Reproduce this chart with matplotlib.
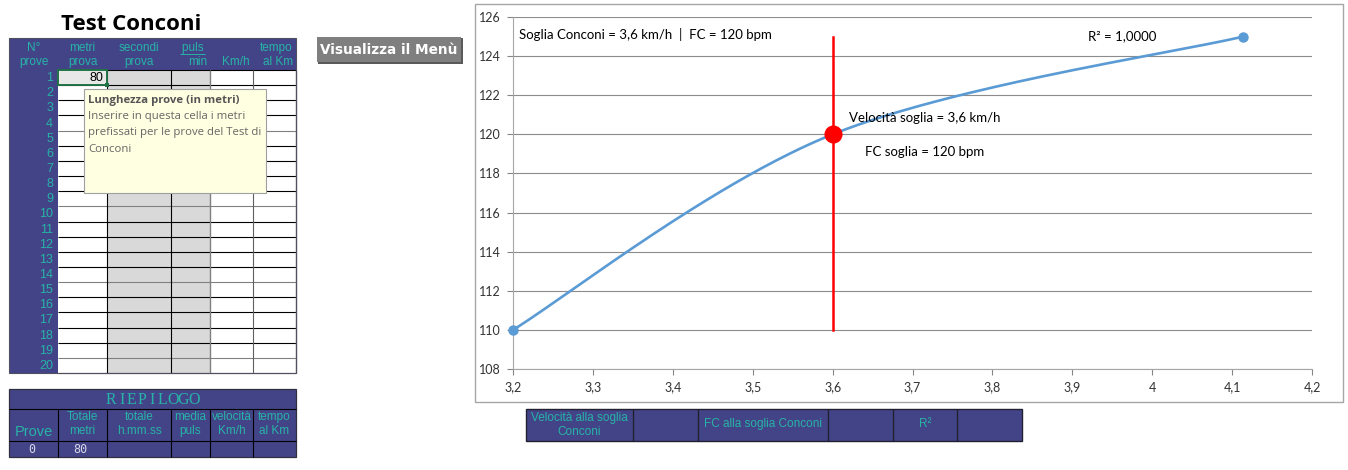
import numpy as np
import matplotlib
matplotlib.use("Agg")
import matplotlib.pyplot as plt
from matplotlib.patches import Rectangle

# ---------------- data ----------------
velocita = [3.2, 3.6, 4.114]          # km/h
fc = [110, 120, 125]                  # bpm
soglia_vel = 3.6
soglia_fc = 120
fc_linea = [110, 125]                 # extent of threshold line
r2 = 1.0
x_ticks = [3.2, 3.3, 3.4, 3.5, 3.6, 3.7, 3.8, 3.9, 4.0, 4.1, 4.2]
y_ticks = [108, 110, 112, 114, 116, 118, 120, 122, 124, 126]

header_top = ["N°", "metri", "secondi", "puls ", "", "tempo"]
header_bot = ["prove", "prova", "prova", "min", "Km/h", "al Km"]
prove_num = list(range(1, 21))
metri_prova = "80"
riep_title = "RIEPILOGO"
riep_top = ["", "Totale", "totale", "media", "velocità", "tempo"]
riep_bot = ["Prove", "metri", "h.mm.ss", "puls", "Km/h", "al Km"]
riep_val = ["0", "80", "", "", "", ""]
soglia_tab = ["Velocità alla soglia\nConconi", "", "FC alla soglia Conconi", "", "R²", ""]
tooltip_title = "Lunghezza prove (in metri)"
tooltip_body = ["Inserire in questa cella i metri",
                "prefissati per le prove del Test di",
                "Conconi"]

BLUE = "#434488"
TEAL = "#27B3A5"
SANS = "Liberation Sans"
CHART_FONT = "Lato"

fig = plt.figure(figsize=(13.48, 4.70), dpi=100)
bg = fig.add_axes([0, 0, 1, 1])
bg.set_xlim(0, 1348)
bg.set_ylim(470, 0)
bg.axis("off")


def rect(x0, y0, x1, y1, fc="none", ec="none", lw=0.8, z=1):
    bg.add_patch(Rectangle((x0, y0), x1 - x0, y1 - y0, facecolor=fc,
                           edgecolor=ec, linewidth=lw, zorder=z))


def hline(y, x0, x1, c="black", lw=0.8, z=3):
    bg.plot([x0, x1], [y, y], color=c, lw=lw, zorder=z, solid_capstyle="butt")


def vline(x, y0, y1, c="black", lw=0.8, z=3):
    bg.plot([x, x], [y0, y1], color=c, lw=lw, zorder=z, solid_capstyle="butt")


# ---------------- title ----------------
bg.text(131, 24, "Test Conconi", ha="center", va="center", fontsize=16,
        fontweight="bold", family="Open Sans", color="black")

# ---------------- main table ----------------
cols = [9, 58, 107, 171, 210, 253, 296]
top, hbot = 38, 70
rh = (373 - 70) / 20.0
rect(cols[0], top, cols[-1], hbot, fc=BLUE, z=1)
aligns = ["center", "center", "center", "right", "right", "right"]
for j in range(6):
    x0, x1 = cols[j], cols[j + 1]
    if aligns[j] == "center":
        xt, ha = (x0 + x1) / 2, "center"
    else:
        xt, ha = x1 - 3, "right"
    bg.text(xt, 48, header_top[j], ha=ha, va="center", fontsize=8.5, family=SANS, color=TEAL, zorder=5)
    bg.text(xt, 62, header_bot[j], ha=ha, va="center", fontsize=8.5, family=SANS, color=TEAL, zorder=5)
# underline "puls"
hline(54, 180, 205, c=TEAL, lw=0.7, z=5)

for i, n in enumerate(prove_num):
    y0 = hbot + i * rh
    y1 = y0 + rh
    rect(cols[0], y0, cols[1], y1, fc=BLUE, z=1)
    rect(cols[1], y0, cols[2], y1, fc="white", z=1)
    rect(cols[2], y0, cols[4], y1, fc="#D9D9D9", z=1)
    rect(cols[4], y0, cols[6], y1, fc="white", z=1)
    bg.text(cols[1] - 5, (y0 + y1) / 2 + 0.5, str(n), ha="right", va="center",
            fontsize=9, family=SANS, color=TEAL, zorder=5)
    hline(y1, cols[1], cols[6], c="black" if i % 5 != 3 else "#808080", lw=0.8)
hline(hbot, cols[1], cols[6], c="black", lw=0.8)
vline(cols[2], hbot, 373, c="black")
vline(cols[3], hbot, 373, c="black")
vline(cols[4], hbot, 373, c="#808080", lw=1.0)
vline(cols[5], hbot, 373, c="#606060", lw=0.8)
vline(cols[6], hbot, 373, c="#808080", lw=1.0)
rect(cols[0], top, cols[6], 373, ec="#505060", lw=0.8, z=4)

# selected cell with value
rect(cols[1], hbot, cols[2], hbot + rh, fc="#E8E8E8", ec="#217346", lw=1.4, z=6)
bg.add_patch(Rectangle((cols[2] - 2, hbot + rh - 2), 4, 4, facecolor="#217346", zorder=7))
bg.text(cols[2] - 4, hbot + rh / 2 + 0.5, metri_prova, ha="right", va="center",
        fontsize=9, family=SANS, color="black", zorder=7)

# tooltip
rect(84, 89, 266, 193, fc="#FFFFE1", ec="#A0A0A0", lw=0.8, z=8)
bg.text(88, 101, tooltip_title, ha="left", va="center", fontsize=8.2,
        fontweight="bold", family="Open Sans", color="#555555", zorder=9)
for k, line in enumerate(tooltip_body):
    bg.text(88, 117 + k * 16, line, ha="left", va="center", fontsize=8.2,
            family="Open Sans", color="#666666", zorder=9)

# ---------------- button ----------------
rect(318, 38, 463, 64, fc="#5A5A5A", z=2)
rect(317, 37, 461, 62, fc="#7F7F7F", z=3)
bg.text(389, 50, "Visualizza il Menù", ha="center", va="center", fontsize=9.8,
        fontweight="bold", family="DejaVu Sans", color="white", zorder=4)

# ---------------- riepilogo ----------------
rt, r1, r2y, rb = 389, 409, 441, 457
rect(cols[0], rt, cols[6], rb, fc=BLUE, ec="#303040", lw=0.9, z=2)
step = 10.3
x_start = (cols[0] + cols[6]) / 2 - step * len(riep_title) / 2
for k, ch in enumerate(riep_title):
    bg.text(x_start + (k + 0.5) * step, 399.5, ch, ha="center", va="center",
            fontsize=11.5, family="Liberation Serif", color=TEAL, zorder=5)
hline(r1, cols[0], cols[6], c="black", lw=0.8)
hline(r2y, cols[0], cols[6], c="black", lw=0.8)
for x in cols[1:-1]:
    vline(x, r1, rb, c="black", lw=0.8)
for j in range(6):
    xc = (cols[j] + cols[j + 1]) / 2
    if j == 0:
        bg.text(xc, 432, riep_bot[j], ha="center", va="center", fontsize=10.5,
                family=SANS, color=TEAL, zorder=5)
    else:
        bg.text(xc, 417, riep_top[j], ha="center", va="center", fontsize=8.5,
                family=SANS, color=TEAL, zorder=5)
        bg.text(xc, 431, riep_bot[j], ha="center", va="center", fontsize=8.5,
                family=SANS, color=TEAL, zorder=5)
    if riep_val[j]:
        bg.text(xc - 2, 449.5, riep_val[j], ha="center", va="center", fontsize=8.5,
                family="DejaVu Sans Mono", color="#D8D8E8", zorder=5)

# ---------------- chart frame ----------------
rect(474.5, 3.5, 1343, 402, fc="white", ec="#A6A6A6", lw=1.0, z=1)

# ---------------- threshold table under chart ----------------
tcols = [526, 633, 698, 828, 893, 957, 1022]
tt, tb = 409, 441
rect(tcols[0], tt, tcols[-1], tb, fc=BLUE, ec="#202030", lw=1.0, z=2)
for x in tcols[1:-1]:
    vline(x, tt, tb, c="#202030", lw=1.0)
for j, s in enumerate(soglia_tab):
    if s:
        xc = (tcols[j] + tcols[j + 1]) / 2
        yc = 425 if "\n" in s else 424
        bg.text(xc, yc, s, ha="center", va="center", fontsize=8.5, family=SANS,
                color=TEAL, zorder=5, linespacing=1.2)

# ---------------- chart ----------------
L, R, T, B = 513, 1312, 17, 369
ax = fig.add_axes([L / 1348, 1 - B / 470, (R - L) / 1348, (B - T) / 470])
ax.set_facecolor("none")


def excel_smooth(xs, ys, n=80):
    P = np.column_stack([xs, ys]).astype(float)
    m = len(P)
    out = []
    for i in range(m - 1):
        p0, p1 = P[i], P[i + 1]
        pm = P[i - 1] if i > 0 else P[i]
        pp = P[i + 2] if i + 2 < m else P[i + 1]
        c1 = p0 + (p1 - pm) / 6.0
        c2 = p1 - (pp - p0) / 6.0
        t = np.linspace(0, 1, n)[:, None]
        seg = ((1 - t) ** 3) * p0 + 3 * ((1 - t) ** 2) * t * c1 + 3 * (1 - t) * t ** 2 * c2 + t ** 3 * p1
        out.append(seg if i == 0 else seg[1:])
    return np.vstack(out)


curve = excel_smooth(velocita, fc)
BLUE_LINE = "#5B9BD5"
ax.plot(curve[:, 0], curve[:, 1], color=BLUE_LINE, lw=1.9, zorder=3, clip_on=False)
ax.plot([velocita[0], velocita[-1]], [fc[0], fc[-1]], "o", color=BLUE_LINE,
        markersize=6.5, zorder=4, clip_on=False)
ax.plot([soglia_vel, soglia_vel], fc_linea, color="#FF0000", lw=1.8, zorder=5)
ax.plot([soglia_vel], [soglia_fc], "o", color="#FF0000", markersize=12, zorder=6)

ax.set_xlim(x_ticks[0], x_ticks[-1])
ax.set_ylim(y_ticks[0], y_ticks[-1])
ax.set_xticks(x_ticks)
ax.set_yticks(y_ticks)
ax.set_xticklabels([("%g" % v).replace(".", ",") for v in x_ticks])
ax.set_yticklabels([str(v) for v in y_ticks])
for lab in ax.get_xticklabels() + ax.get_yticklabels():
    lab.set_family(CHART_FONT)
    lab.set_fontsize(9)
    lab.set_color("#333333")
ax.tick_params(axis="both", direction="out", length=4, width=0.8, color="#868686", pad=5)
ax.grid(axis="y", color="#8C8C8C", lw=0.8)
ax.set_axisbelow(True)
for s in ["top", "right"]:
    ax.spines[s].set_visible(False)
for s in ["left", "bottom"]:
    ax.spines[s].set_color("#A6A6A6")
    ax.spines[s].set_linewidth(0.8)

fmt = lambda v: ("%g" % v).replace(".", ",")
ax.text(0.0075, 0.949, "Soglia Conconi = %s km/h  |  FC = %d bpm" % (fmt(soglia_vel), soglia_fc),
        transform=ax.transAxes, ha="left", va="center", fontsize=9.5, family=CHART_FONT, color="black")
ax.text(0.7197, 0.946, "R² = %s" % ("%.4f" % r2).replace(".", ","), transform=ax.transAxes,
        ha="left", va="center", fontsize=9.5, family=CHART_FONT, color="black")
ax.text(0.4205, 0.713, "Velocità soglia = %s km/h" % fmt(soglia_vel), transform=ax.transAxes,
        ha="left", va="center", fontsize=9.5, family=CHART_FONT, color="black")
ax.text(0.4405, 0.6165, "FC soglia = %d bpm" % soglia_fc, transform=ax.transAxes,
        ha="left", va="center", fontsize=9.5, family=CHART_FONT, color="black")

fig.savefig("out.png", dpi=100)
